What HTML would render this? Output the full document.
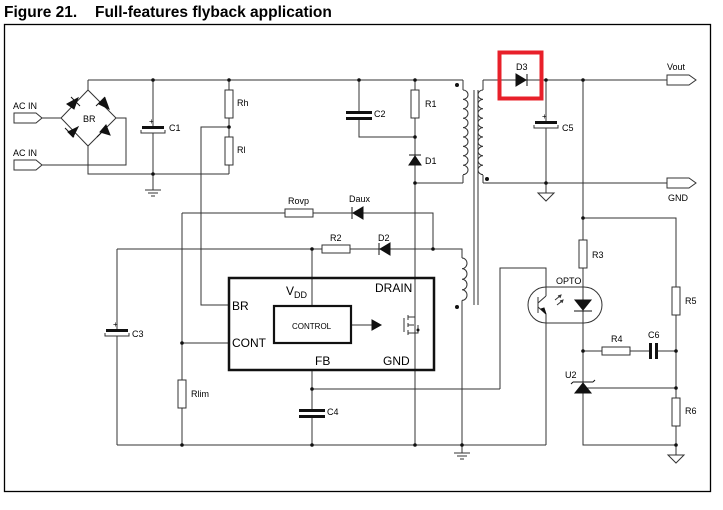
<!DOCTYPE html>
<html><head><meta charset="utf-8"><style>
body{margin:0;background:#fff;}
svg{display:block;font-family:"Liberation Sans",Arial,sans-serif;}
</style></head><body>
<svg width="723" height="510" viewBox="0 0 723 510" xmlns="http://www.w3.org/2000/svg">
<text x="4" y="17" font-size="15.5" font-weight="bold" fill="#000">Figure 21.</text>
<text x="95" y="17" font-size="15.5" font-weight="bold" fill="#000">Full-features flyback application</text>
<rect x="4.5" y="24.5" width="706" height="467" fill="none" stroke="#000" stroke-width="1.3"/>
<g stroke="#333" stroke-width="1" fill="none">
<path d="M88 80H463M88 80V90"/>
<path d="M88 90L61 118L88 146L116 118Z"/>
<path d="M42 118H61M42 165H126V118H116M88 146V174H229"/>
<path d="M153 80V127M153 133V190"/>
<path d="M229 80V90M229 118V137M229 165V174M229 127H201V305H228"/>
<path d="M359 80V112M359 118V137H415M415 80V90M415 118V445M415 183H463"/>
<path d="M463 80V90M463 175V183"/>
<path d="M463 90 a5 4.7 0 0 1 0 9.4 a5 4.7 0 0 1 0 9.4 a5 4.7 0 0 1 0 9.4 a5 4.7 0 0 1 0 9.4 a5 4.7 0 0 1 0 9.4 a5 4.7 0 0 1 0 9.4 a5 4.7 0 0 1 0 9.4 a5 4.7 0 0 1 0 9.4 a5 4.7 0 0 1 0 9.4"/>
<path d="M474 90V305M478 90V305"/>
<path d="M483 80V90M483 175V183"/>
<path d="M483 90 a5 4.7 0 0 0 0 9.4 a5 4.7 0 0 0 0 9.4 a5 4.7 0 0 0 0 9.4 a5 4.7 0 0 0 0 9.4 a5 4.7 0 0 0 0 9.4 a5 4.7 0 0 0 0 9.4 a5 4.7 0 0 0 0 9.4 a5 4.7 0 0 0 0 9.4 a5 4.7 0 0 0 0 9.4"/>
<path d="M483 80H667M483 183H667"/>
<path d="M546 80V122M546 128V193"/>
<path d="M538 193H554L546 201Z"/>
<path d="M667 75H689L696 80L689 85H667ZM667 178H689L696 183L689 188H667Z"/>
<path d="M14 113H36L42 118L36 123H14ZM14 160H36L42 165L36 170H14Z"/>
<path d="M583 80V240M583 268V445H676M583 218H676V287M676 315V398M676 426V455"/>
<path d="M668 455H684L676 463Z"/>
<path d="M583 351H602M630 351H650M656 351H676M583 388H676"/>
<rect x="528" y="287" width="74" height="36" rx="18"/>
<path d="M500 389V268H546V296M546 314V445"/>
<path d="M546 296L538 303V307L546 314M538 297V313"/>
<path d="M182 213H285M313 213H433V249M117 249H322M350 249H462V258M312 249V277"/>
<path d="M462 305V445"/>
<path d="M462 258 a5 5.3 0 0 1 0 10.6 a5 5.3 0 0 1 0 10.6 a5 5.3 0 0 1 0 10.6 a5 5.3 0 0 1 0 10.6" />
<path d="M462 300.4V305"/>
<path d="M182 213V380M182 408V445M182 343H228M117 249V330M117 336V445M117 445H546"/>
<path d="M312 370V410M312 416V445M312 389H500M312 277V305"/>
<path d="M462 445V453"/>
<path d="M454 453H470M457 456H467M460 459H464"/>
<path d="M145 190H161M148 193H158M151 196H155"/>
<path d="M351 325H372"/>
<path d="M404 318V332M408 315V320M408 323V327M408 330V335M408 317H415M408 333H418V325M408 325H414"/>
</g>
<g fill="#fff" stroke="#333" stroke-width="1">
<rect x="225" y="90" width="8" height="28"/>
<rect x="225" y="137" width="8" height="28"/>
<rect x="411" y="90" width="8" height="28"/>
<rect x="579" y="240" width="8" height="28"/>
<rect x="672" y="287" width="8" height="28"/>
<rect x="672" y="398" width="8" height="28"/>
<rect x="178" y="380" width="8" height="28"/>
<rect x="285" y="209" width="28" height="8"/>
<rect x="322" y="245" width="28" height="8"/>
<rect x="602" y="347" width="28" height="8"/>
</g>
<g fill="#111">
<rect x="346" y="111" width="26" height="3"/><rect x="346" y="117" width="26" height="3"/>
<rect x="299" y="409" width="26" height="3"/><rect x="299" y="415" width="26" height="3"/>
<rect x="649" y="343" width="3" height="16"/><rect x="655" y="343" width="3" height="16"/>
<rect x="142" y="126" width="22" height="3"/>
<rect x="535" y="121" width="22" height="3"/>
<rect x="106" y="329" width="22" height="3"/>
</g>
<g fill="none" stroke="#333" stroke-width="1">
<path d="M141 130V133H165V130M534 125V128H558V125M105 333V336H129V333"/>
</g>
<g font-size="8" fill="#000">
<text x="149" y="124">+</text><text x="542" y="119">+</text><text x="113" y="327">+</text>
</g>
<g fill="#111" stroke="#111" stroke-width="1">
<path d="M67 104L78 98L74 109Z"/><path d="M71 97L80 106" />
<path d="M99 104L109 109L105 98Z"/><path d="M96 106L105 97"/>
<path d="M68 132L78 127L73 137Z"/><path d="M65 128L74 137"/>
<path d="M100 132L106 125L110 135Z"/><path d="M97 137L106 128"/>
<path d="M409 165H421L415 156Z"/><path d="M409 155H421"/>
<path d="M516 74V86L526 80Z"/><path d="M527 74V86"/>
<path d="M363 207V219L353 213Z"/><path d="M352 207V219"/>
<path d="M390 243V255L380 249Z"/><path d="M379 243V255"/>
<path d="M372 320V330L381 325Z"/>
<path d="M575 300H591L583 310Z"/><path d="M574 311H592"/>
<path d="M575 393H591L583 383Z"/><path d="M573 382H593"/><path d="M573 382l-2 2M593 382l2-2" fill="none"/>
<path d="M546 314L541 309L544 308Z"/>
</g>
<g stroke="#333" stroke-width="1" fill="none">
<path d="M555 300l5-4M557 305l5-4M558 296l3-1-1 3M560 301l3-1-1 3"/>
</g>
<rect x="499.5" y="52.5" width="42" height="46" fill="none" stroke="#e8202a" stroke-width="4"/>
<rect x="229" y="278" width="205" height="92" fill="none" stroke="#111" stroke-width="2.5"/>
<rect x="274" y="306" width="77" height="37" fill="none" stroke="#111" stroke-width="2.2"/>
<g fill="#111">
<circle cx="153" cy="80" r="1.8"/><circle cx="229" cy="80" r="1.8"/><circle cx="359" cy="80" r="1.8"/><circle cx="415" cy="80" r="1.8"/>
<circle cx="229" cy="127" r="1.8"/><circle cx="153" cy="174" r="1.8"/><circle cx="415" cy="137" r="1.8"/><circle cx="415" cy="183" r="1.8"/>
<circle cx="457" cy="85" r="2"/><circle cx="487" cy="179" r="2"/><circle cx="457" cy="307" r="2"/>
<circle cx="546" cy="80" r="1.8"/><circle cx="583" cy="80" r="1.8"/><circle cx="546" cy="183" r="1.8"/>
<circle cx="583" cy="218" r="1.8"/><circle cx="583" cy="351" r="1.8"/><circle cx="676" cy="351" r="1.8"/><circle cx="676" cy="388" r="1.8"/><circle cx="676" cy="445" r="1.8"/>
<circle cx="312" cy="249" r="1.8"/><circle cx="433" cy="249" r="1.8"/><circle cx="182" cy="343" r="1.8"/><circle cx="312" cy="389" r="1.8"/>
<circle cx="182" cy="445" r="1.8"/><circle cx="312" cy="445" r="1.8"/><circle cx="415" cy="445" r="1.8"/><circle cx="462" cy="445" r="1.8"/><circle cx="418" cy="330" r="1.5"/>
</g>
<g font-size="9" fill="#000">
<text x="13" y="109">AC IN</text><text x="13" y="156">AC IN</text>
<text x="83" y="122">BR</text><text x="169" y="131">C1</text>
<text x="237" y="106">Rh</text><text x="237" y="153">Rl</text>
<text x="374" y="117">C2</text><text x="425" y="107">R1</text><text x="425" y="164">D1</text>
<text x="516" y="70">D3</text><text x="562" y="131">C5</text>
<text x="667" y="70">Vout</text><text x="668" y="201">GND</text>
<text x="288" y="204">Rovp</text><text x="349" y="202">Daux</text>
<text x="330" y="241">R2</text><text x="378" y="241">D2</text>
<text x="132" y="337">C3</text><text x="191" y="397">Rlim</text><text x="327" y="415">C4</text>
<text x="592" y="258">R3</text><text x="556" y="284">OPTO</text>
<text x="685" y="304">R5</text><text x="611" y="342">R4</text><text x="648" y="338">C6</text>
<text x="565" y="378">U2</text><text x="685" y="414">R6</text>
<text x="292" y="329" font-size="8">CONTROL</text>
</g>
<g font-size="12" fill="#000">
<text x="286" y="295">V<tspan font-size="9" dy="3">DD</tspan></text>
<text x="375" y="292">DRAIN</text>
<text x="232" y="310">BR</text><text x="232" y="347">CONT</text>
<text x="315" y="365">FB</text><text x="383" y="365">GND</text>
</g>
</svg>
</body></html>
